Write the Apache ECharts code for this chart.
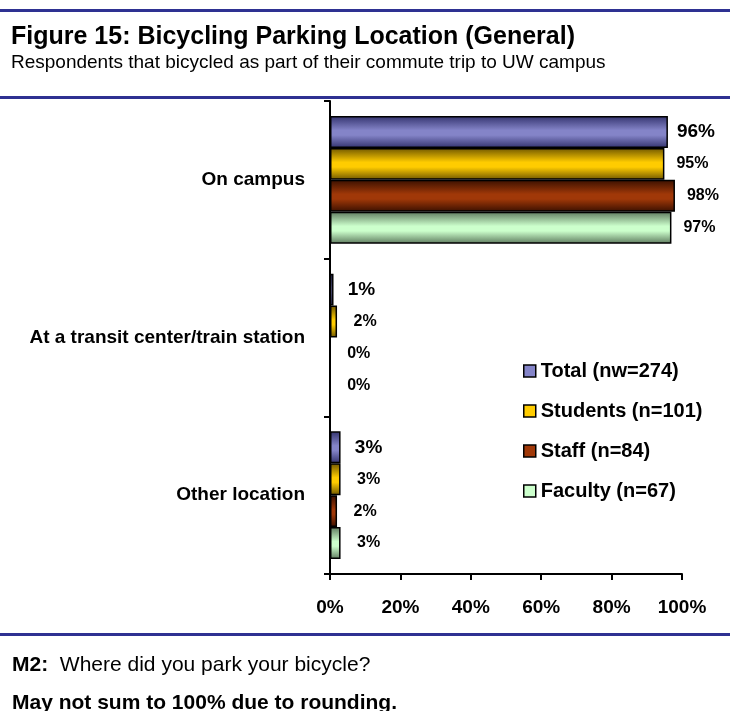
<!DOCTYPE html>
<html>
<head>
<meta charset="utf-8">
<title>Figure 15</title>
<script src="https://cdn.jsdelivr.net/npm/echarts@6/dist/echarts.min.js"></script>
<style>
  html, body { margin: 0; padding: 0; background: #fff; }
  #charts { width: 730px; height: 711px; }
</style>
</head>
<body>
<div id="charts"></div>
<script>
var categories = ['On campus', 'At a transit center/train station', 'Other location'];
var seriesNames = ['Total (nw=274)', 'Students (n=101)', 'Staff (n=84)', 'Faculty (n=67)'];
var totalData = [96, 1, 3];
var studentsData = [95, 2, 3];
var staffData = [98, 0, 2];
var facultyData = [97, 0, 3];
var tickLabels = ['0%', '20%', '40%', '60%', '80%', '100%'];

(function () {
    var myChart = echarts.init(document.getElementById('charts'));
    var font = 'Arial, "Liberation Sans", sans-serif';
    var rule = '#2e3192';

    // flat colour, dark edge colour for the shaded bars
    var colors = [
        ['#8484c8', '#33336e'],
        ['#ffcc00', '#6e5600'],
        ['#a03808', '#3a1000'],
        ['#ccffcc', '#5e7a5e']
    ];
    var values = [totalData, studentsData, staffData, facultyData];

    function shade(c) {
        return new echarts.graphic.LinearGradient(0, 0, 0, 1, [
            {offset: 0, color: c[1]},
            {offset: 0.45, color: c[0]},
            {offset: 0.6, color: c[0]},
            {offset: 1, color: c[1]}
        ]);
    }

    var series = seriesNames.map(function (name, i) {
        return {
            name: name,
            type: 'bar',
            data: values[i],
            barGap: '0%',
            barCategoryGap: '19%',
            itemStyle: {
                color: shade(colors[i]),
                borderColor: '#000',
                borderWidth: 1.5
            },
            label: {
                show: true,
                position: 'right',
                distance: 28,
                align: 'center',
                formatter: '{c}%',
                color: '#000',
                fontFamily: font,
                fontWeight: 'bold',
                fontSize: i === 0 ? 19 : 16
            }
        };
    });

    var option = {
        backgroundColor: '#fff',
        animation: false,
        legend: {
            orient: 'vertical',
            left: 518,
            top: 356,
            padding: 5,
            itemWidth: 12,
            itemHeight: 12,
            itemGap: 20,
            icon: 'rect',
            data: seriesNames.map(function (name, i) {
                return {name: name, itemStyle: {color: colors[i][0], borderColor: '#000', borderWidth: 1.5}};
            }),
            textStyle: {fontFamily: font, fontSize: 20, fontWeight: 'bold', color: '#000'}
        },
        grid: {left: 330, right: 48, top: 101, bottom: 137},
        xAxis: {
            type: 'value',
            min: 0,
            max: 100,
            interval: 20,
            splitLine: {show: false},
            axisLine: {show: true, lineStyle: {color: '#000', width: 2}},
            axisTick: {show: true, length: 6, lineStyle: {color: '#000', width: 2}},
            axisLabel: {
                margin: 24,
                fontFamily: font,
                fontSize: 19,
                fontWeight: 'bold',
                color: '#000',
                formatter: function (v) { return tickLabels[Math.round(v / 20)]; }
            }
        },
        yAxis: {
            type: 'category',
            inverse: true,
            data: categories,
            axisLine: {show: true, lineStyle: {color: '#000', width: 2}},
            axisTick: {show: true, length: 6, lineStyle: {color: '#000', width: 2}},
            axisLabel: {
                margin: 25,
                fontFamily: font,
                fontSize: 19,
                fontWeight: 'bold',
                color: '#000'
            }
        },
        graphic: [
            {type: 'rect', shape: {x: 0, y: 9, width: 730, height: 3}, style: {fill: rule}},
            {type: 'rect', shape: {x: 0, y: 96, width: 730, height: 3}, style: {fill: rule}},
            {type: 'rect', shape: {x: 0, y: 633, width: 730, height: 3}, style: {fill: rule}},
            {
                type: 'text', x: 11, y: 37,
                style: {
                    text: 'Figure 15: Bicycling Parking Location (General)',
                    fontFamily: font, fontSize: 25, fontWeight: 'bold', fill: '#000',
                    verticalAlign: 'middle'
                }
            },
            {
                type: 'text', x: 11, y: 63,
                style: {
                    text: 'Respondents that bicycled as part of their commute trip to UW campus',
                    fontFamily: font, fontSize: 19, fill: '#000',
                    verticalAlign: 'middle'
                }
            },
            {
                type: 'text', x: 12, y: 665,
                style: {
                    text: '{b|M2:}  Where did you park your bicycle?',
                    fontFamily: font, fontSize: 21, fill: '#000',
                    verticalAlign: 'middle',
                    rich: {b: {fontFamily: font, fontSize: 21, fontWeight: 'bold', fill: '#000'}}
                }
            },
            {
                type: 'text', x: 12, y: 703,
                style: {
                    text: 'May not sum to 100% due to rounding.',
                    fontFamily: font, fontSize: 21, fontWeight: 'bold', fill: '#000',
                    verticalAlign: 'middle'
                }
            }
        ],
        series: series
    };

    myChart.setOption(option);
})();
</script>
</body>
</html>
